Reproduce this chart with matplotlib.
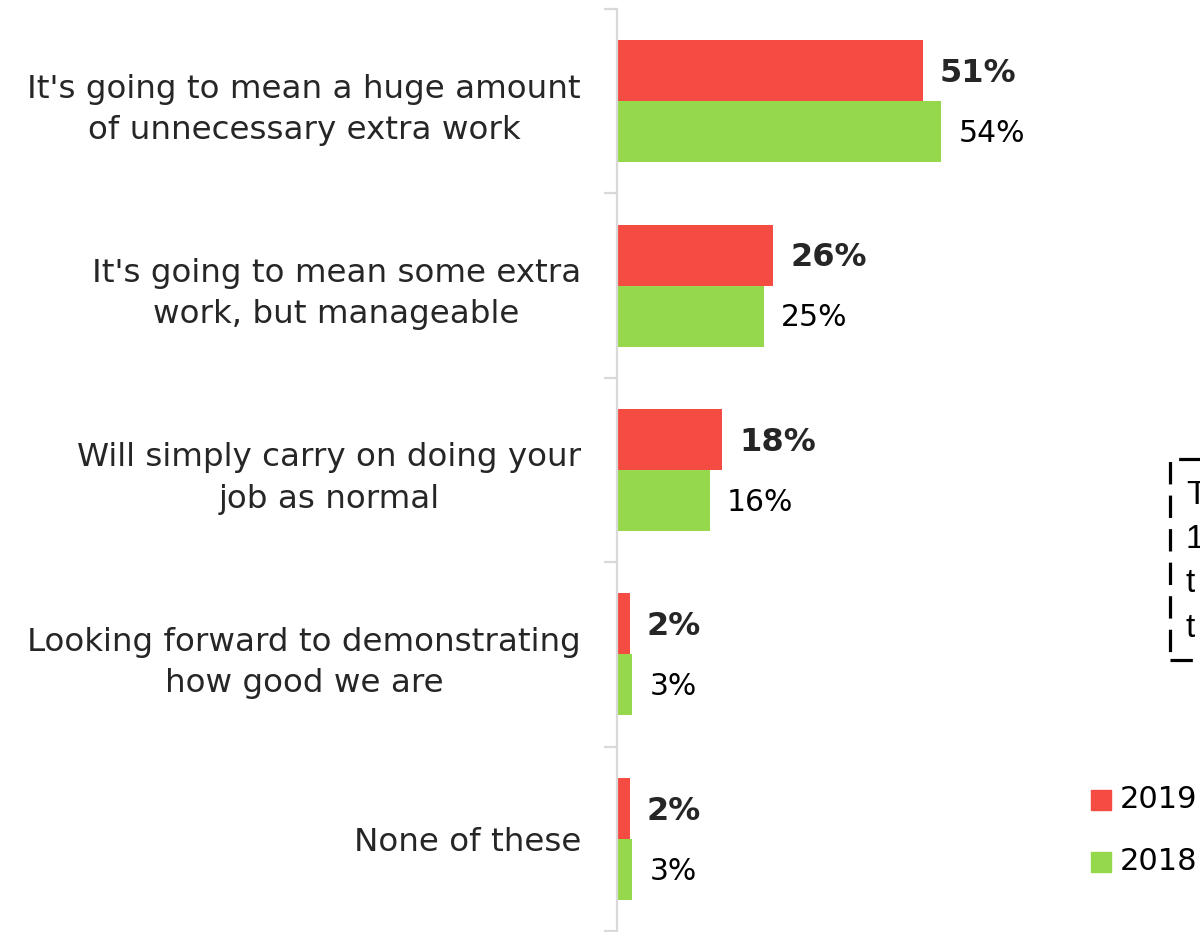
import matplotlib
matplotlib.use("Agg")
import matplotlib.pyplot as plt
from matplotlib.patches import Rectangle
from matplotlib.transforms import ScaledTranslation

categories = [
    "It's going to mean a huge amount\nof unnecessary extra work",
    "It's going to mean some extra\nwork, but manageable",
    "Will simply carry on doing your\njob as normal",
    "Looking forward to demonstrating\nhow good we are",
    "None of these",
]
values_2019 = [51.3, 26.2, 17.6, 2.1, 2.1]
values_2018 = [54.4, 24.6, 15.6, 2.6, 2.6]
series_names = ["2019", "2018"]
box_lines = ["T", "1", "t", "t"]

RED = "#f44b42"
GREEN = "#95d84b"
AXIS = "#d9d9d9"
FONT = "DejaVu Sans"
FS_CAT = 23.4
FS_VAL = 21.5

W, H = 1200, 932
fig = plt.figure(figsize=(W / 100, H / 100), dpi=100)
px_per_pct = 5.96
ax_left, ax_top, ax_bot = 617, 9, 931
ax = fig.add_axes([ax_left / W, (H - ax_bot) / H, (W - ax_left) / W, (ax_bot - ax_top) / H])
ax.set_xlim(0, (W - ax_left) / px_per_pct)
n = len(categories)
ax.set_ylim(n - 0.5, -0.5)

bh = 0.331
ys = list(range(n))
ax.barh([y - bh / 2 for y in ys], values_2019, height=bh, color=RED, label=series_names[0])
ax.barh([y + bh / 2 for y in ys], values_2018, height=bh, color=GREEN, label=series_names[1])

off = 17 / px_per_pct
for y, v in zip(ys, values_2019):
    ax.text(v + off, y - bh / 2 + 0.015, f"{round(v)}%", va="center", ha="left",
            fontsize=FS_VAL + 1.5, fontweight="bold", color="#262626", family=FONT)
for y, v in zip(ys, values_2018):
    ax.text(v + off, y + bh / 2 + 0.01, f"{round(v)}%", va="center", ha="left",
            fontsize=FS_VAL, color="black", family=FONT)

for s in ["top", "right", "bottom"]:
    ax.spines[s].set_visible(False)
ax.spines["left"].set_color(AXIS)
ax.spines["left"].set_linewidth(1.6)
ax.set_xticks([])
ax.set_yticks(ys)
ax.set_yticklabels(categories, fontsize=FS_CAT, color="#262626", family=FONT,
                   multialignment="center", linespacing=1.42)
shift = ScaledTranslation(0, 0.06, fig.dpi_scale_trans)
for lab in ax.get_yticklabels():
    lab.set_transform(lab.get_transform() + shift)
ax.tick_params(axis="y", which="major", length=0, pad=26)
ax.set_yticks([i - 0.5 for i in range(n + 1)], minor=True)
ax.tick_params(axis="y", which="minor", length=9.5, width=1.6, color=AXIS)

# legend (manual, at right)
for i, (name, col) in enumerate(zip(series_names, [RED, GREEN])):
    yc = 800 + i * 62
    fig.add_artist(Rectangle((1091 / W, (H - yc - 10) / H), 20 / W, 20 / H,
                             transform=fig.transFigure, color=col))
    fig.text(1120 / W, (H - yc) / H, name, va="center", ha="left",
             fontsize=FS_VAL + 0.5, color="black", family=FONT)

# dashed annotation box (partly outside the image)
box = Rectangle((1170 / W, (H - 660) / H), 200 / W, 201 / H, transform=fig.transFigure,
                fill=False, edgecolor="black", linewidth=2.3, linestyle=(0, (7, 3.5)))
fig.add_artist(box)
for i, t in enumerate(box_lines):
    fig.text(1186 / W, (H - (495 + i * 44.5)) / H, t, va="center", ha="left",
             fontsize=24, color="black", family="Liberation Sans")

fig.savefig("out.png", dpi=100)
